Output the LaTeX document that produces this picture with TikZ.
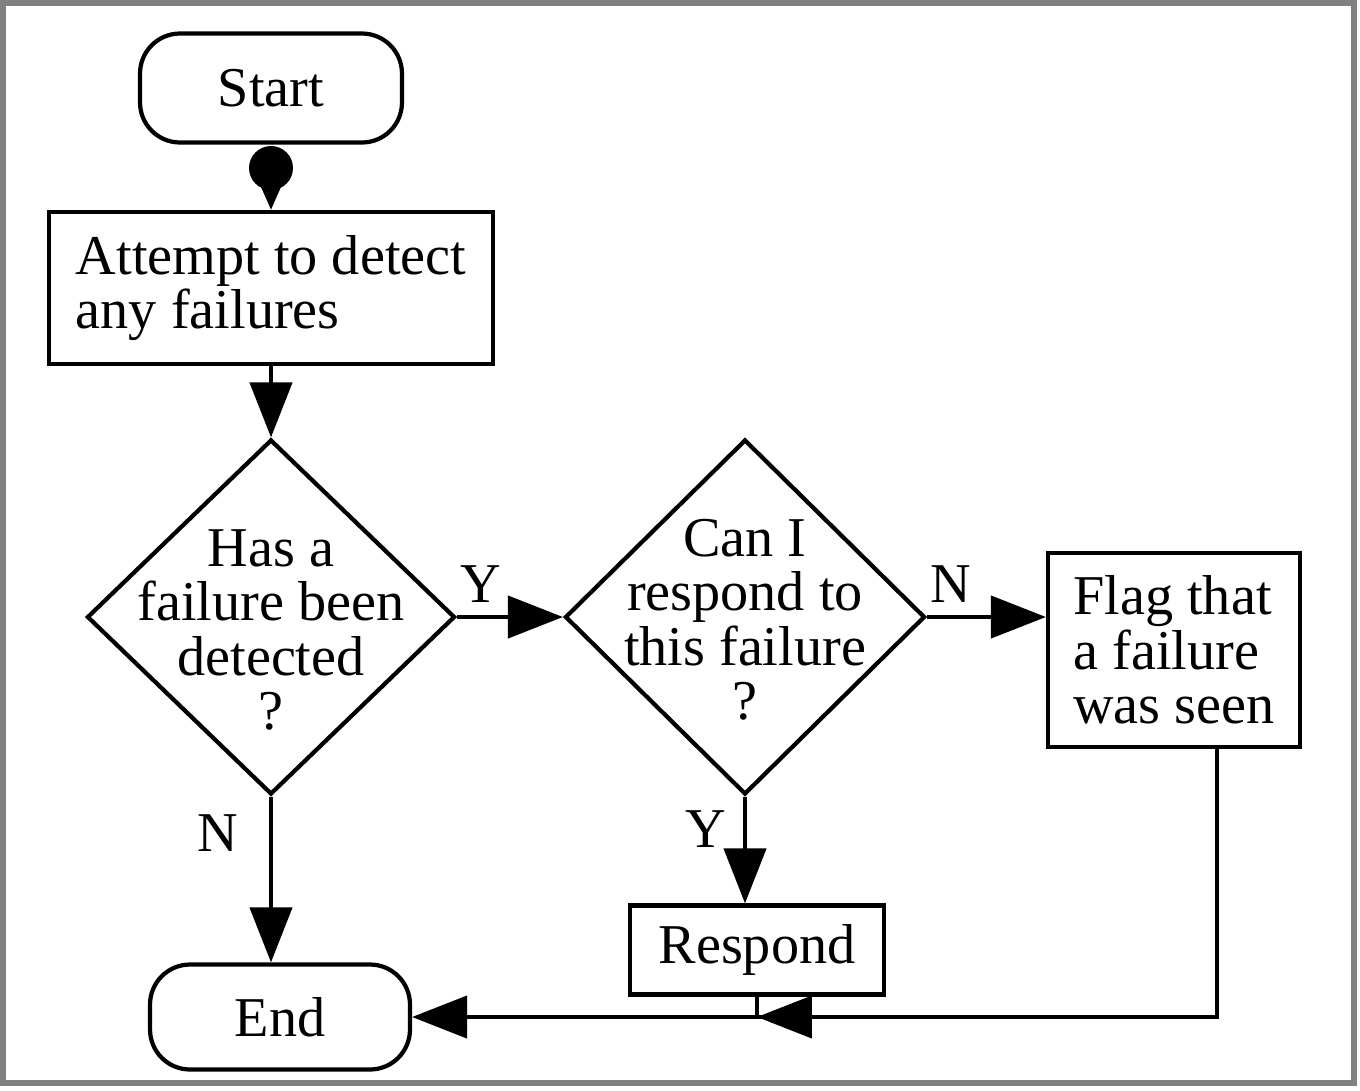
\documentclass[tikz,border=0pt]{standalone}
\usepackage{fontspec}
\setmainfont{Liberation Serif}
\usetikzlibrary{shapes.geometric, arrows.meta}

\tikzset{
  base/.style={draw, line width=2.4pt, inner sep=0pt, font=\fontsize{32}{31}\selectfont},
  terminal/.style={base, rounded corners=0.8cm},
  process/.style={base, align=left},
  decide/.style={draw, line width=2.4pt, diamond, inner sep=0pt},
  dtext/.style={align=center, font=\fontsize{32}{31}\selectfont},
  flow/.style={line width=2.4pt, -{Triangle[length=1.1cm, width=0.84cm]}},
  link/.style={line width=2.4pt},
  lab/.style={font=\fontsize{32}{31}\selectfont}
}

\begin{document}
\begin{tikzpicture}[x=0.02cm, y=-0.02cm]
\useasboundingbox (0,0) rectangle (1360,1090);
\draw[gray, line width=3pt] (3,3) rectangle (1354,1083);

\node[terminal, minimum width=5.24cm, minimum height=2.18cm] (start) at (271,88) {Start};
\node[process, minimum width=8.88cm, minimum height=3.04cm] (attempt) at (271,288) {Attempt to detect\\any failures};
\node[decide, minimum width=7.36cm, minimum height=7.1cm] (d1) at (271,617) {};
\node[dtext] at (271,630) {Has a\\failure been\\detected\\?};
\node[decide, minimum width=7.2cm, minimum height=7.1cm] (d2) at (745,617) {};
\node[dtext] at (745,620) {Can I\\respond to\\this failure\\?};
\node[process, minimum width=5.04cm, minimum height=3.88cm] (flag) at (1174,650) {Flag that\\a failure\\was seen};
\node[base, minimum width=5.08cm, minimum height=1.78cm] (respond) at (757,950) {Respond};
\node[terminal, minimum width=5.2cm, minimum height=2.1cm] (end) at (280,1017) {End};

% start to first step
\coordinate (dot) at (271,168);
\fill (dot) circle [radius=0.44cm];
\draw[link, -{Triangle[length=0.6cm, width=0.5cm]}] (dot) -- (attempt.north);

\draw[flow] (attempt) -- (d1);
\draw[flow] (d1.east) -- (d2.west) node[lab, pos=0.22, above=4pt] {Y};
\draw[flow] (d2.east) -- (d2.east -| flag.west) node[lab, pos=0.2, above=4pt] {N};
\draw[flow] (d1.south) -- (d1.south |- end.north) node[lab, pos=0.22, left=14pt] {N};
\draw[flow] (d2.south) -- (d2.south |- respond.north) node[lab, pos=0.3, left=6pt] {Y};

% back to end
\coordinate (flagout) at ([xshift=0.86cm]flag.south);
\coordinate (join) at (respond.south |- end.east);
\draw[flow] (flagout) |- (end.east);
\draw[link] (respond.south) -- (join);
\draw[flow] ([xshift=1.1cm]join) -- (join);
\end{tikzpicture}
\end{document}
